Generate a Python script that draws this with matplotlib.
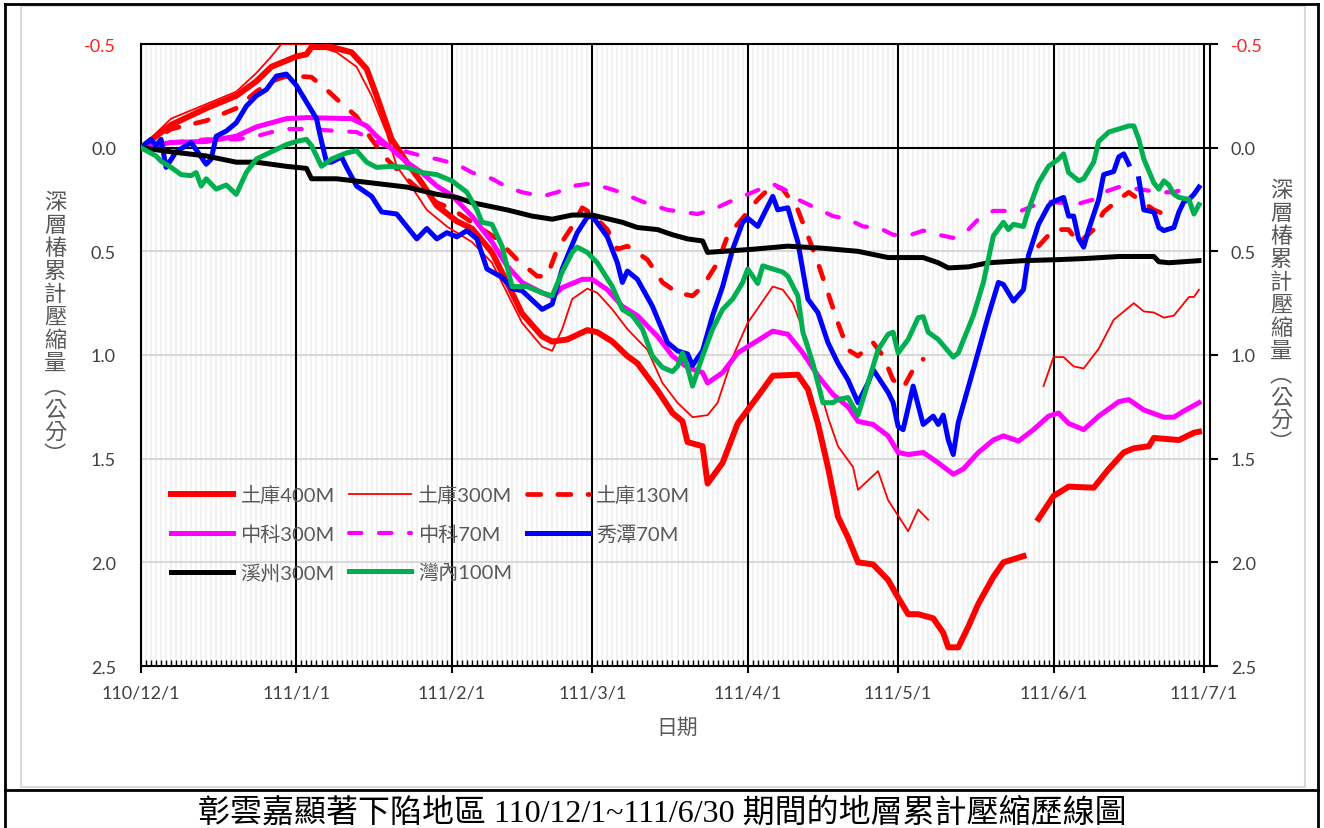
import numpy as np
import matplotlib
matplotlib.use("Agg")
import matplotlib.pyplot as plt
from matplotlib.lines import Line2D

plt.rcParams["font.family"] = ["Lato", "Noto Sans CJK TC", "DejaVu Sans"]
plt.rcParams["axes.unicode_minus"] = False

nan = np.nan

# x axis: months (ROC calendar labels)
month_dates = ["2021-12-01", "2022-01-01", "2022-02-01", "2022-03-01",
               "2022-04-01", "2022-05-01", "2022-06-01", "2022-07-01"]
month_labels = ["110/12/1", "111/1/1", "111/2/1", "111/3/1",
                "111/4/1", "111/5/1", "111/6/1", "111/7/1"]

# --- series: day offset from 110/12/1, cumulative compaction (cm) ---
tk400_day = [0, 6, 13, 19, 23, 26, 31, 33, 34, 38, 42, 45, 47, 50, 53, 56, 59, 63, 66, 70,
             73, 76, 80, 82, 85, 89, 91, 94, 97, 99, 103, 106, 108, 109, 112, 113, 116, 119, 123, 126,
             131, 133, 135, 137, 139, 141, 143, 146, 149, 151, 153, 155, 158, 160, 161, 163, 165, 167, 170, 172,
             176, 177, 179, 182, 185, 190, 193, 196, 198, 201, 202, 207, 210, 211]
tk400_val = [0.0, -0.11, -0.19, -0.25, -0.32, -0.39, -0.44, -0.45, -0.485, -0.485,
             -0.46, -0.38, -0.25, -0.04, 0.07, 0.17, 0.28, 0.355, 0.39, 0.505,
             0.65, 0.80, 0.91, 0.935, 0.925, 0.88, 0.89, 0.935, 1.005, 1.04,
             1.17, 1.28, 1.32, 1.42, 1.44, 1.62, 1.52, 1.33, 1.20, 1.10,
             1.095, 1.165, 1.33, 1.54, 1.78, 1.88, 2.0, 2.01, 2.085, 2.17,
             2.25, 2.25, 2.27, 2.34, 2.41, 2.41, 2.31, 2.20, 2.07, 2.0,
             1.97, nan, 1.79, 1.68, 1.635, 1.64, 1.55, 1.47, 1.45, 1.44,
             1.40, 1.41, 1.375, 1.37]

tk300_day = [0, 6, 13, 19, 23, 26, 28, 34, 39, 43, 46, 49, 51, 54, 57, 61, 63, 66, 70, 73,
             76, 80, 82, 84, 86, 89, 91, 94, 97, 101, 104, 107, 110, 113, 115, 118, 121, 126, 128, 130,
             133, 135, 137, 139, 142, 143, 147, 149, 153, 155, 157, 158, 180, 182, 184, 186, 188, 191, 194, 198,
             200, 202, 204, 206, 209, 210, 211]
tk300_val = [0.0, -0.14, -0.21, -0.27, -0.36, -0.44, -0.5, -0.5, -0.46, -0.39,
             -0.25, -0.07, 0.09, 0.19, 0.30, 0.38, 0.41, 0.455, 0.555, 0.70,
             0.845, 0.96, 0.98, 0.875, 0.73, 0.68, 0.70, 0.78, 0.875, 0.975,
             1.135, 1.23, 1.30, 1.29, 1.23, 1.01, 0.845, 0.67, 0.685, 0.75,
             0.94, 1.13, 1.30, 1.44, 1.54, 1.65, 1.56, 1.70, 1.85, 1.745,
             1.795, nan, 1.15, 1.01, 1.01, 1.055, 1.065, 0.97, 0.83, 0.75,
             0.79, 0.795, 0.82, 0.81, 0.72, 0.72, 0.685]

tk130_day = [0, 6, 13, 19, 23, 26, 29, 31, 34, 37, 39, 43, 46, 49, 53, 56, 59, 62, 66, 71,
             75, 79, 81, 83, 86, 88, 90, 93, 95, 97, 101, 104, 107, 110, 112, 115, 117, 120, 123, 126,
             128, 131, 133, 135, 137, 139, 141, 143, 146, 148, 150, 152, 154, 156, 157, 179, 182, 185, 187, 190,
             192, 195, 197, 199, 202, 205]
tk130_val = [0.0, -0.09, -0.13, -0.19, -0.27, -0.32, -0.345, -0.345, -0.34, -0.28,
             -0.235, -0.15, -0.04, 0.055, 0.15, 0.215, 0.265, 0.295, 0.36, 0.44,
             0.54, 0.62, 0.62, 0.49, 0.38, 0.29, 0.32, 0.395, 0.49, 0.475,
             0.54, 0.65, 0.70, 0.715, 0.67, 0.555, 0.425, 0.34, 0.25, 0.18,
             0.20, 0.30, 0.425, 0.555, 0.70, 0.845, 0.975, 1.005, 0.94, 1.005,
             1.12, 1.16, 1.07, 1.02, nan, 0.475, 0.395, 0.395, 0.46, 0.395,
             0.31, 0.25, 0.215, 0.25, 0.30, 0.33]

zk300_day = [0, 6, 13, 19, 23, 26, 29, 33, 42, 45, 47, 50, 53, 56, 59, 62, 66, 70, 73, 76,
             80, 82, 84, 88, 90, 93, 96, 99, 103, 106, 109, 112, 113, 116, 119, 123, 126, 129, 132, 135,
             138, 141, 143, 146, 149, 151, 153, 156, 159, 162, 164, 167, 170, 172, 175, 178, 181, 183, 185, 188,
             191, 195, 197, 200, 204, 206, 208, 211]
zk300_val = [0.0, -0.025, -0.03, -0.055, -0.10, -0.12, -0.14, -0.145, -0.14, -0.105,
             -0.055, 0.007, 0.07, 0.12, 0.185, 0.23, 0.33, 0.455, 0.57, 0.65,
             0.70, 0.72, 0.675, 0.635, 0.635, 0.685, 0.765, 0.81, 0.91, 1.005,
             1.06, 1.085, 1.135, 1.085, 0.99, 0.93, 0.885, 0.90, 0.99, 1.10,
             1.19, 1.25, 1.32, 1.335, 1.39, 1.47, 1.48, 1.47, 1.52, 1.575,
             1.55, 1.47, 1.41, 1.39, 1.415, 1.36, 1.295, 1.28, 1.33, 1.36,
             1.295, 1.225, 1.215, 1.265, 1.30, 1.30, 1.27, 1.23]

zk70_day = [0, 6, 13, 19, 23, 26, 29, 33, 43, 46, 49, 53, 56, 59, 63, 66, 70, 73, 76, 80,
            83, 86, 89, 91, 95, 98, 101, 105, 108, 111, 114, 117, 120, 123, 126, 129, 131, 138, 141, 144,
            147, 150, 153, 156, 159, 162, 165, 167, 170, 173, 175, 178, 181, 183, 187, 190, 192, 195, 199, 203,
            206, 210]
zk70_val = [0.0, -0.025, -0.04, -0.04, -0.055, -0.075, -0.09, -0.09, -0.075, -0.04,
            -0.008, 0.02, 0.04, 0.055, 0.08, 0.12, 0.15, 0.19, 0.215, 0.235,
            0.215, 0.185, 0.175, 0.18, 0.21, 0.24, 0.27, 0.30, 0.31, 0.32,
            0.30, 0.265, 0.235, 0.205, 0.175, 0.21, 0.25, 0.33, 0.345, 0.38,
            0.385, 0.42, 0.425, 0.40, 0.42, 0.435, 0.395, 0.345, 0.305, 0.305,
            0.31, 0.28, 0.26, 0.265, 0.27, 0.25, 0.215, 0.19, 0.20, 0.215,
            0.215, 0.185]

xt70_day = [0, 2, 3, 4, 5, 7, 10, 13, 14, 15, 17, 19, 21, 23, 25, 27, 29, 31, 33, 35,
            36, 37, 38, 40, 41, 43, 46, 48, 51, 53, 55, 57, 59, 61, 63, 65, 67, 69, 72, 74,
            76, 80, 82, 84, 87, 89, 90, 93, 95, 96, 97, 99, 102, 105, 107, 109, 110, 112, 114, 116,
            118, 120, 121, 123, 126, 127, 129, 131, 133, 135, 137, 139, 141, 143, 145, 146, 149, 150, 151, 152,
            154, 156, 158, 159, 160, 161, 162, 163, 166, 169, 171, 172, 174, 176, 177, 179, 181, 182, 184, 185,
            186, 187, 188, 189, 191, 192, 194, 195, 196, 197, 198, 199, 200, 202, 203, 204, 206, 207, 208, 209,
            210, 211]
xt70_val = [0.0, -0.04, -0.01, -0.04, 0.095, 0.02, -0.025, 0.08, 0.055, -0.055,
            -0.08, -0.12, -0.20, -0.25, -0.28, -0.345, -0.355, -0.30, -0.22, -0.14,
            -0.03, 0.07, 0.07, 0.045, 0.095, 0.185, 0.235, 0.31, 0.32, 0.38,
            0.44, 0.39, 0.44, 0.41, 0.43, 0.40, 0.44, 0.585, 0.625, 0.68,
            0.69, 0.78, 0.755, 0.585, 0.41, 0.335, 0.33, 0.43, 0.555, 0.65,
            0.595, 0.635, 0.765, 0.94, 0.98, 0.995, 1.05, 0.98, 0.81, 0.67,
            0.49, 0.36, 0.34, 0.38, 0.235, 0.30, 0.29, 0.455, 0.73, 0.795,
            0.94, 1.04, 1.12, 1.23, 1.135, 1.07, 1.18, 1.23, 1.345, 1.36,
            1.15, 1.335, 1.295, 1.335, 1.29, 1.41, 1.48, 1.325, 1.07, 0.81,
            0.65, 0.66, 0.74, 0.685, 0.52, 0.37, 0.28, 0.26, 0.24, 0.33,
            0.33, 0.44, 0.48, 0.395, 0.25, 0.13, 0.115, 0.045, 0.03, 0.08,
            nan, 0.15, 0.30, 0.31, 0.385, 0.40, 0.385, 0.31, 0.26, 0.25,
            0.225, 0.19]

xz300_day = [0, 6, 13, 16, 19, 23, 26, 29, 33, 34, 39, 46, 53, 59, 63, 66, 73, 78, 82, 86,
             90, 96, 99, 103, 106, 109, 112, 113, 116, 122, 129, 136, 143, 149, 156, 159, 161, 165, 169, 176,
             183, 188, 195, 202, 203, 205, 211]
xz300_val = [0.0, 0.02, 0.04, 0.055, 0.07, 0.07, 0.08, 0.09, 0.10, 0.15,
             0.15, 0.17, 0.19, 0.225, 0.24, 0.265, 0.30, 0.33, 0.345, 0.325,
             0.325, 0.36, 0.385, 0.395, 0.42, 0.44, 0.45, 0.505, 0.50, 0.49,
             0.475, 0.485, 0.50, 0.53, 0.53, 0.555, 0.58, 0.575, 0.555, 0.545,
             0.54, 0.535, 0.525, 0.525, 0.55, 0.555, 0.545]

wn100_day = [0, 3, 4, 6, 8, 10, 11, 12, 13, 15, 17, 19, 21, 23, 26, 29, 31, 33, 34, 36,
             38, 41, 43, 45, 47, 50, 53, 56, 59, 62, 65, 67, 68, 70, 72, 74, 77, 80, 82, 84,
             86, 87, 89, 91, 94, 96, 98, 100, 102, 104, 106, 107, 108, 109, 110, 112, 114, 116, 118, 120,
             121, 123, 124, 126, 128, 129, 131, 132, 134, 136, 138, 139, 141, 143, 145, 147, 149, 150, 151, 153,
             155, 156, 157, 159, 162, 163, 166, 168, 170, 172, 173, 174, 176, 177, 179, 181, 183, 184, 185, 187,
             188, 190, 191, 193, 195, 197, 198, 199, 200, 202, 203, 204, 205, 206, 207, 209, 210, 211]
wn100_val = [0.0, 0.04, 0.065, 0.095, 0.13, 0.135, 0.12, 0.185, 0.15, 0.20,
             0.18, 0.225, 0.12, 0.055, 0.02, -0.015, -0.03, -0.04, -0.01, 0.09,
             0.055, 0.025, 0.015, 0.07, 0.095, 0.09, 0.095, 0.12, 0.13, 0.16,
             0.215, 0.30, 0.36, 0.37, 0.475, 0.67, 0.67, 0.70, 0.715, 0.60,
             0.505, 0.48, 0.505, 0.555, 0.67, 0.78, 0.81, 0.875, 1.005, 1.06,
             1.08, 1.055, 0.99, 1.06, 1.15, 1.005, 0.875, 0.78, 0.73, 0.65,
             0.585, 0.655, 0.57, 0.585, 0.60, 0.62, 0.715, 0.89, 1.04, 1.23,
             1.23, 1.215, 1.205, 1.29, 1.135, 0.975, 0.90, 0.89, 0.99, 0.925,
             0.82, 0.815, 0.89, 0.925, 1.01, 0.99, 0.81, 0.65, 0.425, 0.36,
             0.395, 0.37, 0.38, 0.30, 0.17, 0.09, 0.055, 0.03, 0.12, 0.16,
             0.15, 0.07, -0.03, -0.075, -0.09, -0.105, -0.105, -0.04, 0.055, 0.17,
             0.20, 0.16, 0.18, 0.225, 0.24, 0.25, 0.32, 0.275]

y_ticks = [-0.5, 0.0, 0.5, 1.0, 1.5, 2.0, 2.5]
y_ticklabels = ["-0.5", "0.0", "0.5", "1.0", "1.5", "2.0", "2.5"]
ylabel_chars = ["深", "層", "椿", "累", "計", "壓", "縮", "量", "︵", "公", "分", "︶"]
caption = "彰雲嘉顯著下陷地區 110/12/1~111/6/30 期間的地層累計壓縮歷線圖"

# --- figure ---
W, H = 1324, 829
fig = plt.figure(figsize=(W / 100, H / 100), dpi=100)


def fline(xs, ys, **kw):
    fig.add_artist(Line2D([x / W for x in xs], [1 - y / H for y in ys],
                          transform=fig.transFigure, **kw))


# outer frame, chart border, caption separator
fline([21, 1305, 1305, 21, 21], [7, 7, 788, 788, 7], color="#d9d9d9", lw=1.5)
fline([5, 1318], [5, 5], color="black", lw=2)
fline([5, 5], [5, 829], color="black", lw=2)
fline([1318, 1318], [5, 829], color="black", lw=2)
fline([5, 1318], [791, 791], color="black", lw=2)

x_left, x_right, y_top, y_bot = 141, 1210, 45, 667
ax = fig.add_axes([x_left / W, 1 - y_bot / H, (x_right - x_left) / W, (y_bot - y_top) / H])

base = np.datetime64("2021-12-01")
month_day = [(np.datetime64(d) - base).astype(int) for d in month_dates]
n_days = month_day[-1]

ax.set_xlim(0, n_days + 1.2)
ax.set_ylim(2.5, -0.5)

# grid: daily light lines, monthly black lines
ax.vlines(np.arange(0, n_days + 1), -0.5, 2.5, colors="#f1f1f1", lw=1.3, zorder=0)
ax.hlines([0.5, 1.0, 1.5, 2.0], 0, n_days + 1.2, colors="#d9d9d9", lw=1.5, zorder=1)
ax.vlines(month_day, -0.5, 2.5, colors="black", lw=1.5, zorder=1)
ax.hlines(0.0, 0, n_days + 1.2, colors="black", lw=1.5, zorder=1)

series = [
    ("土庫400M", tk400_day, tk400_val, dict(color="#ff0000", lw=4.3)),
    ("土庫300M", tk300_day, tk300_val, dict(color="#ff0000", lw=1.3)),
    ("土庫130M", tk130_day, tk130_val, dict(color="#ff0000", lw=3.4, dashes=(2.8, 3.6), dash_capstyle="round")),
    ("中科300M", zk300_day, zk300_val, dict(color="#ff00ff", lw=3.6)),
    ("中科70M", zk70_day, zk70_val, dict(color="#ff00ff", lw=3.0, dashes=(3.0, 4.2), dash_capstyle="round")),
    ("秀潭70M", xt70_day, xt70_val, dict(color="#0000ff", lw=3.6)),
    ("溪州300M", xz300_day, xz300_val, dict(color="#000000", lw=3.6)),
    ("灣內100M", wn100_day, wn100_val, dict(color="#00b050", lw=3.6)),
]
lines = {}
for name, d, v, st in series:
    (ln,) = ax.plot(d, v, solid_joinstyle="round", zorder=3, label=name, **st)
    lines[name] = ln

# axes styling
for s in ["top", "bottom", "left"]:
    ax.spines[s].set_color("black")
    ax.spines[s].set_linewidth(1.5)
ax.spines["right"].set_visible(False)

ax.set_xticks(month_day)
ax.set_xticklabels(month_labels)
ax.set_xticks(np.arange(0, n_days + 1), minor=True)
ax.tick_params(axis="x", which="major", direction="out", length=5, width=1.5,
               pad=8, labelsize=13, labelcolor="#404040")
ax.tick_params(axis="x", which="minor", direction="in", length=4, width=1)

ax.set_yticks(y_ticks)
ax.set_yticklabels(y_ticklabels)
ax.tick_params(axis="y", length=0, pad=18, labelsize=13, labelcolor="#404040")
ax.get_yticklabels()[0].set_color("#ff2020")

ax2 = ax.twinx()
ax2.set_ylim(2.5, -0.5)
ax2.set_yticks(y_ticks)
ax2.set_yticklabels(y_ticklabels)
ax2.tick_params(axis="y", direction="out", length=6, width=1.5, pad=9,
                labelsize=13, labelcolor="#404040")
ax2.get_yticklabels()[0].set_color("#ff2020")
for s in ["top", "bottom", "left"]:
    ax2.spines[s].set_visible(False)
ax2.spines["right"].set_linewidth(1.5)

# stacked vertical axis titles (one glyph per line)
stacked = "\n".join(ylabel_chars)
fig.text(55 / W, 1 - 191 / H, stacked, ha="center", va="top", fontsize=16,
         linespacing=1.0, color="#595959", family="Noto Sans CJK TC")
fig.text(1281 / W, 1 - 179 / H, stacked, ha="center", va="top", fontsize=16,
         linespacing=1.0, color="#595959", family="Noto Sans CJK TC")

fig.text(677 / W, 1 - 728 / H, "日期", ha="center", va="center", fontsize=15,
         color="#595959", family="Noto Sans CJK TC")

# legend, filled row by row like the original
order = ["土庫400M", "中科300M", "溪州300M", "土庫300M", "中科70M", "灣內100M", "土庫130M", "秀潭70M"]
leg = fig.legend([lines[k] for k in order], order, loc="upper left",
                 bbox_to_anchor=(171 / W, 1 - 486 / H), ncol=3, frameon=False,
                 fontsize=14.5, handlelength=3.1, handletextpad=0.35, columnspacing=0.7,
                 labelspacing=1.0, borderpad=0, borderaxespad=0)
for t in leg.get_texts():
    t.set_color("#595959")

fig.text(662 / W, 1 - 813 / H, caption, ha="center", va="center", fontsize=23,
         color="black", family=["Liberation Serif", "Noto Sans CJK TC"])

fig.savefig("out.png", dpi=100)
